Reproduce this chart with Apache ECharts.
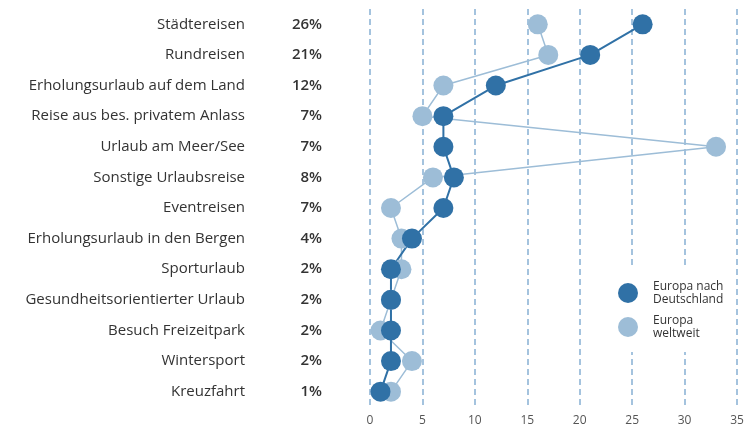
<!DOCTYPE html>
<html>
<head>
<meta charset="utf-8">
<script src="https://cdn.jsdelivr.net/npm/echarts@6/dist/echarts.min.js"></script>
<style>
  html, body { margin: 0; padding: 0; background: #fff; }
  #chart { width: 747px; height: 428px; }
</style>
</head>
<body>
<div id="chart"></div>
<script>
// Reisearten, von oben nach unten
var categories = [
    'Städtereisen', 'Rundreisen', 'Erholungsurlaub auf dem Land', 'Reise aus bes. privatem Anlass',
    'Urlaub am Meer/See', 'Sonstige Urlaubsreise', 'Eventreisen', 'Erholungsurlaub in den Bergen',
    'Sporturlaub', 'Gesundheitsorientierter Urlaub', 'Besuch Freizeitpark', 'Wintersport', 'Kreuzfahrt'
];
var shareLabels = ['26%', '21%', '12%', '7%', '7%', '8%', '7%', '4%', '2%', '2%', '2%', '2%', '1%'];
var europaNachDeutschland = [26, 21, 12, 7, 7, 8, 7, 4, 2, 2, 2, 2, 1];
var europaWeltweit = [16, 17, 7, 5, 33, 6, 2, 3, 3, 2, 1, 4, 2];
var xTicks = [0, 35, 5];  // min, max, interval

var darkName = 'Europa nach\nDeutschland';
var lightName = 'Europa\nweltweit';
var font = 'Open Sans';

var myChart = echarts.init(document.getElementById('chart'));

var option = {
    backgroundColor: '#fff',
    animation: false,
    grid: { left: 370, right: 10, top: 9, height: 398 },
    legend: {
        orient: 'vertical',
        left: 606,
        top: 268,
        padding: [12, 8, 12, 12],
        backgroundColor: '#fff',
        itemWidth: 20,
        itemHeight: 20,
        itemGap: 8,
        icon: 'circle',
        data: [darkName, lightName],
        textStyle: { fontFamily: font, fontSize: 12, color: '#333', lineHeight: 13, padding: [0, 0, 0, 10] }
    },
    xAxis: {
        type: 'value',
        min: xTicks[0],
        max: xTicks[1],
        interval: xTicks[2],
        axisLine: { show: false },
        axisTick: { show: false },
        axisLabel: { color: '#555', fontFamily: font, fontSize: 12, margin: 8 },
        splitLine: {
            show: true,
            lineStyle: { color: '#86b0d4', width: 1.5, type: [6, 4] }
        }
    },
    yAxis: [
        {
            type: 'category',
            inverse: true,
            data: categories,
            axisLine: { show: false },
            axisTick: { show: false },
            axisLabel: { color: '#333', fontFamily: font, fontSize: 15, margin: 125 }
        },
        {
            type: 'category',
            inverse: true,
            position: 'left',
            data: shareLabels,
            axisLine: { show: false },
            axisTick: { show: false },
            axisLabel: { color: '#333', fontFamily: font, fontSize: 15, fontWeight: 600, margin: 48 }
        }
    ],
    series: [
        {
            name: lightName,
            type: 'line',
            data: europaWeltweit,
            symbol: 'circle',
            symbolSize: 20,
            color: '#9dbdd7',
            lineStyle: { width: 1.5, color: '#9dbdd7' },
            itemStyle: { color: '#9dbdd7' }
        },
        {
            name: darkName,
            type: 'line',
            data: europaNachDeutschland,
            symbol: 'circle',
            symbolSize: 20,
            color: '#3071a6',
            lineStyle: { width: 2, color: '#3071a6' },
            itemStyle: { color: '#3071a6' }
        }
    ]
};

myChart.setOption(option);
</script>
</body>
</html>
